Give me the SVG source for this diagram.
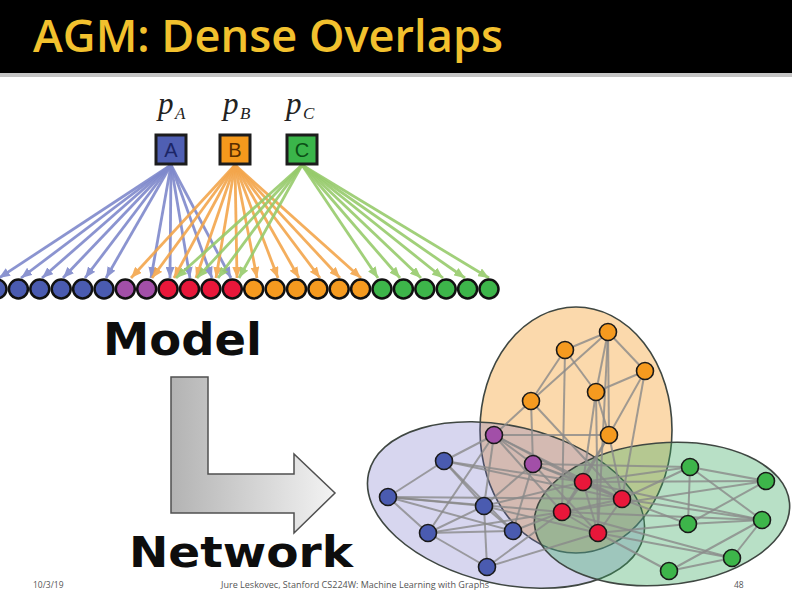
<svg xmlns="http://www.w3.org/2000/svg" width="792" height="591" viewBox="0 0 792 591">
<defs>
<style>
.title{font-family:"Open Sans","Liberation Sans",sans-serif;font-weight:600;fill:#f2c12e}
.big{font-family:"DejaVu Sans","Liberation Sans",sans-serif;font-weight:bold;fill:#0d0d0d}
.foot{font-family:"Open Sans","Liberation Sans",sans-serif;font-size:8.5px;fill:#555}
.pl{font-family:"Liberation Serif",serif;font-style:italic;fill:#222}
.boxt{font-family:"Liberation Sans",sans-serif;font-size:20px;text-anchor:middle}
.row circle{stroke:#111;stroke-width:2.5}
.net circle{stroke:#1a1a1a;stroke-width:1.6}
.cb{fill:#4a5bb0}.cp{fill:#a24fa8}.cr{fill:#e8173a}.co{fill:#f59a1f}.cg{fill:#3db54a}
.aA{stroke:#7f89cc;stroke-width:2.8;fill:none;opacity:.9;marker-end:url(#mA)}
.aB{stroke:#f3a64c;stroke-width:2.8;fill:none;opacity:.9;marker-end:url(#mB)}
.aC{stroke:#97cb6c;stroke-width:2.8;fill:none;opacity:.9;marker-end:url(#mC)}
.e{stroke:#8a8a8a;stroke-width:2;opacity:.8}
.ell{stroke:#3f4742;stroke-width:1.6}
</style>
<marker id="mA" markerUnits="userSpaceOnUse" markerWidth="11" markerHeight="9" refX="11" refY="4.5" orient="auto"><path d="M0,0 L11,4.5 L0,9 z" fill="#7f89cc"/></marker>
<marker id="mB" markerUnits="userSpaceOnUse" markerWidth="11" markerHeight="9" refX="11" refY="4.5" orient="auto"><path d="M0,0 L11,4.5 L0,9 z" fill="#f3a64c"/></marker>
<marker id="mC" markerUnits="userSpaceOnUse" markerWidth="11" markerHeight="9" refX="11" refY="4.5" orient="auto"><path d="M0,0 L11,4.5 L0,9 z" fill="#97cb6c"/></marker>
<linearGradient id="gArr" x1="171" y1="0" x2="335" y2="0" gradientUnits="userSpaceOnUse">
<stop offset="0" stop-color="#b3b3b3"/><stop offset="1" stop-color="#f3f3f3"/>
</linearGradient>
</defs>
<rect width="792" height="591" fill="#fff"/>
<rect width="792" height="73" fill="#000"/>
<rect y="73" width="792" height="4" fill="#c4c4c4"/>
<text class="title" x="33" y="52" font-size="45" textLength="470" lengthAdjust="spacingAndGlyphs">AGM: Dense Overlaps</text>

<g id="labels">
<text class="pl" x="158" y="114" font-size="31">p</text><text class="pl" x="175" y="119" font-size="17">A</text>
<text class="pl" x="223" y="114" font-size="31">p</text><text class="pl" x="240" y="119" font-size="17">B</text>
<text class="pl" x="286" y="114" font-size="31">p</text><text class="pl" x="303" y="119" font-size="17">C</text>
</g>

<g id="model-connectors">
<path class="aA" d="M171,165 L-1,278"/>
<path class="aA" d="M171,165 L21,278"/>
<path class="aA" d="M171,165 L42,278"/>
<path class="aA" d="M171,165 L63,278"/>
<path class="aA" d="M171,165 L85,278"/>
<path class="aA" d="M171,165 L106,278"/>
<path class="aA" d="M171,165 L151,278"/>
<path class="aA" d="M171,165 L170,278"/>
<path class="aA" d="M171,165 L190,278"/>
<path class="aA" d="M171,165 L212,278"/>
<path class="aA" d="M171,165 L231,278"/>
<path class="aB" d="M235,165 L131,278"/>
<path class="aB" d="M235,165 L152,278"/>
<path class="aB" d="M235,165 L174,278"/>
<path class="aB" d="M235,165 L196,278"/>
<path class="aB" d="M235,165 L216,278"/>
<path class="aB" d="M235,165 L237,278"/>
<path class="aB" d="M235,165 L257,278"/>
<path class="aB" d="M235,165 L278,278"/>
<path class="aB" d="M235,165 L299,278"/>
<path class="aB" d="M235,165 L320,278"/>
<path class="aB" d="M235,165 L340,278"/>
<path class="aB" d="M235,165 L361,278"/>
<path class="aC" d="M302,165 L176,278"/>
<path class="aC" d="M302,165 L197,278"/>
<path class="aC" d="M302,165 L218,278"/>
<path class="aC" d="M302,165 L239,278"/>
<path class="aC" d="M302,165 L378,278"/>
<path class="aC" d="M302,165 L400,278"/>
<path class="aC" d="M302,165 L421,278"/>
<path class="aC" d="M302,165 L443,278"/>
<path class="aC" d="M302,165 L465,278"/>
<path class="aC" d="M302,165 L489,278"/>
</g>

<g id="box-A"><rect x="156" y="135" width="30" height="29" fill="#4f5fb3" stroke="#1c1c1c" stroke-width="3"/><text class="boxt" x="171" y="157" fill="#1c2566">A</text></g>
<g id="box-B"><rect x="220" y="135" width="30" height="29" fill="#f5991c" stroke="#1c1c1c" stroke-width="3"/><text class="boxt" x="235" y="157" fill="#5a2f00">B</text></g>
<g id="box-C"><rect x="287" y="135" width="30" height="29" fill="#3ab54a" stroke="#1c1c1c" stroke-width="3"/><text class="boxt" x="302" y="157" fill="#0b4f16">C</text></g>

<g id="member-row" class="row">
<circle class="cb" cx="-3" cy="289" r="9.5"/>
<circle class="cb" cx="18.4" cy="289" r="9.5"/>
<circle class="cb" cx="39.8" cy="289" r="9.5"/>
<circle class="cb" cx="61.2" cy="289" r="9.5"/>
<circle class="cb" cx="82.6" cy="289" r="9.5"/>
<circle class="cb" cx="104" cy="289" r="9.5"/>
<circle class="cp" cx="125.3" cy="289" r="9.5"/>
<circle class="cp" cx="146.7" cy="289" r="9.5"/>
<circle class="cr" cx="168.1" cy="289" r="9.5"/>
<circle class="cr" cx="189.5" cy="289" r="9.5"/>
<circle class="cr" cx="210.9" cy="289" r="9.5"/>
<circle class="cr" cx="232.3" cy="289" r="9.5"/>
<circle class="co" cx="253.7" cy="289" r="9.5"/>
<circle class="co" cx="275.1" cy="289" r="9.5"/>
<circle class="co" cx="296.5" cy="289" r="9.5"/>
<circle class="co" cx="317.9" cy="289" r="9.5"/>
<circle class="co" cx="339.2" cy="289" r="9.5"/>
<circle class="co" cx="360.6" cy="289" r="9.5"/>
<circle class="cg" cx="382" cy="289" r="9.5"/>
<circle class="cg" cx="403.4" cy="289" r="9.5"/>
<circle class="cg" cx="424.8" cy="289" r="9.5"/>
<circle class="cg" cx="446.2" cy="289" r="9.5"/>
<circle class="cg" cx="467.6" cy="289" r="9.5"/>
<circle class="cg" cx="489" cy="289" r="9.5"/>
</g>

<text class="big" x="103" y="355" font-size="44" textLength="159" lengthAdjust="spacingAndGlyphs">Model</text>
<g id="arrow-model-network">
<path d="M171,377 H208 V474 H294 V454 L335,493 L294,533 V513 H171 Z" fill="url(#gArr)" stroke="#505050" stroke-width="1.5" stroke-linejoin="miter"/>
</g>
<text class="big" x="129" y="567" font-size="42" textLength="224" lengthAdjust="spacingAndGlyphs">Network</text>

<text class="foot" x="33" y="588">10/3/19</text>
<text class="foot" x="355" y="588" text-anchor="middle" textLength="268" lengthAdjust="spacingAndGlyphs">Jure Leskovec, Stanford CS224W: Machine Learning with Graphs</text>
<text class="foot" x="734" y="588">48</text>

<g id="communities">
<ellipse id="comm-B" class="ell" cx="576" cy="430" rx="96" ry="123" fill="#f5a030" fill-opacity=".4"/>
<ellipse id="comm-A" class="ell" cx="506" cy="505" rx="141" ry="79" transform="rotate(13 506 505)" fill="#6a66c4" fill-opacity=".27"/>
<ellipse id="comm-C" class="ell" cx="662" cy="514" rx="128" ry="71" transform="rotate(-5 662 514)" fill="#3aa860" fill-opacity=".36"/>
</g>

<g id="network-edges">
<line class="e" x1="608" y1="332" x2="565" y2="350"/>
<line class="e" x1="608" y1="332" x2="531" y2="401"/>
<line class="e" x1="608" y1="332" x2="596" y2="392"/>
<line class="e" x1="608" y1="332" x2="645" y2="371"/>
<line class="e" x1="608" y1="332" x2="609" y2="435"/>
<line class="e" x1="608" y1="332" x2="598" y2="533"/>
<line class="e" x1="565" y1="350" x2="596" y2="392"/>
<line class="e" x1="565" y1="350" x2="531" y2="401"/>
<line class="e" x1="565" y1="350" x2="562" y2="512"/>
<line class="e" x1="645" y1="371" x2="596" y2="392"/>
<line class="e" x1="645" y1="371" x2="609" y2="435"/>
<line class="e" x1="645" y1="371" x2="622" y2="499"/>
<line class="e" x1="596" y1="392" x2="609" y2="435"/>
<line class="e" x1="596" y1="392" x2="598" y2="533"/>
<line class="e" x1="596" y1="392" x2="583" y2="482"/>
<line class="e" x1="531" y1="401" x2="494" y2="435"/>
<line class="e" x1="531" y1="401" x2="533" y2="464"/>
<line class="e" x1="531" y1="401" x2="622" y2="499"/>
<line class="e" x1="609" y1="435" x2="494" y2="435"/>
<line class="e" x1="609" y1="435" x2="622" y2="499"/>
<line class="e" x1="609" y1="435" x2="583" y2="482"/>
<line class="e" x1="609" y1="435" x2="562" y2="512"/>
<line class="e" x1="494" y1="435" x2="533" y2="464"/>
<line class="e" x1="494" y1="435" x2="484" y2="506"/>
<line class="e" x1="494" y1="435" x2="428" y2="533"/>
<line class="e" x1="494" y1="435" x2="583" y2="482"/>
<line class="e" x1="494" y1="435" x2="562" y2="512"/>
<line class="e" x1="494" y1="435" x2="444" y2="461"/>
<line class="e" x1="494" y1="435" x2="622" y2="499"/>
<line class="e" x1="533" y1="464" x2="583" y2="482"/>
<line class="e" x1="533" y1="464" x2="622" y2="499"/>
<line class="e" x1="533" y1="464" x2="598" y2="533"/>
<line class="e" x1="533" y1="464" x2="513" y2="531"/>
<line class="e" x1="533" y1="464" x2="484" y2="506"/>
<line class="e" x1="533" y1="464" x2="690" y2="467"/>
<line class="e" x1="444" y1="461" x2="388" y2="497"/>
<line class="e" x1="444" y1="461" x2="513" y2="531"/>
<line class="e" x1="444" y1="461" x2="583" y2="482"/>
<line class="e" x1="444" y1="461" x2="622" y2="499"/>
<line class="e" x1="444" y1="461" x2="484" y2="506"/>
<line class="e" x1="388" y1="497" x2="484" y2="506"/>
<line class="e" x1="388" y1="497" x2="428" y2="533"/>
<line class="e" x1="388" y1="497" x2="562" y2="512"/>
<line class="e" x1="388" y1="497" x2="513" y2="531"/>
<line class="e" x1="388" y1="497" x2="622" y2="499"/>
<line class="e" x1="484" y1="506" x2="428" y2="533"/>
<line class="e" x1="484" y1="506" x2="487" y2="567"/>
<line class="e" x1="484" y1="506" x2="513" y2="531"/>
<line class="e" x1="484" y1="506" x2="598" y2="533"/>
<line class="e" x1="484" y1="506" x2="583" y2="482"/>
<line class="e" x1="428" y1="533" x2="513" y2="531"/>
<line class="e" x1="428" y1="533" x2="487" y2="567"/>
<line class="e" x1="428" y1="533" x2="562" y2="512"/>
<line class="e" x1="513" y1="531" x2="562" y2="512"/>
<line class="e" x1="487" y1="567" x2="598" y2="533"/>
<line class="e" x1="487" y1="567" x2="562" y2="512"/>
<line class="e" x1="583" y1="482" x2="622" y2="499"/>
<line class="e" x1="583" y1="482" x2="562" y2="512"/>
<line class="e" x1="583" y1="482" x2="598" y2="533"/>
<line class="e" x1="622" y1="499" x2="562" y2="512"/>
<line class="e" x1="622" y1="499" x2="598" y2="533"/>
<line class="e" x1="562" y1="512" x2="598" y2="533"/>
<line class="e" x1="583" y1="482" x2="690" y2="467"/>
<line class="e" x1="583" y1="482" x2="766" y2="481"/>
<line class="e" x1="583" y1="482" x2="762" y2="520"/>
<line class="e" x1="622" y1="499" x2="688" y2="524"/>
<line class="e" x1="622" y1="499" x2="762" y2="520"/>
<line class="e" x1="622" y1="499" x2="690" y2="467"/>
<line class="e" x1="562" y1="512" x2="766" y2="481"/>
<line class="e" x1="562" y1="512" x2="762" y2="520"/>
<line class="e" x1="562" y1="512" x2="732" y2="558"/>
<line class="e" x1="598" y1="533" x2="732" y2="558"/>
<line class="e" x1="598" y1="533" x2="669" y2="571"/>
<line class="e" x1="598" y1="533" x2="688" y2="524"/>
<line class="e" x1="690" y1="467" x2="688" y2="524"/>
<line class="e" x1="690" y1="467" x2="766" y2="481"/>
<line class="e" x1="690" y1="467" x2="762" y2="520"/>
<line class="e" x1="766" y1="481" x2="688" y2="524"/>
<line class="e" x1="688" y1="524" x2="762" y2="520"/>
<line class="e" x1="762" y1="520" x2="732" y2="558"/>
<line class="e" x1="762" y1="520" x2="669" y2="571"/>
<line class="e" x1="732" y1="558" x2="669" y2="571"/>
</g>

<g id="network-nodes" class="net">
<g id="n-O1"><circle class="co" cx="608" cy="332" r="8.5"/></g>
<g id="n-O2"><circle class="co" cx="565" cy="350" r="8.5"/></g>
<g id="n-O3"><circle class="co" cx="645" cy="371" r="8.5"/></g>
<g id="n-O4"><circle class="co" cx="596" cy="392" r="8.5"/></g>
<g id="n-O5"><circle class="co" cx="531" cy="401" r="8.5"/></g>
<g id="n-O6"><circle class="co" cx="609" cy="435" r="8.5"/></g>
<g id="n-P1"><circle class="cp" cx="494" cy="435" r="8.5"/></g>
<g id="n-P2"><circle class="cp" cx="533" cy="464" r="8.5"/></g>
<g id="n-B1"><circle class="cb" cx="444" cy="461" r="8.5"/></g>
<g id="n-B2"><circle class="cb" cx="388" cy="497" r="8.5"/></g>
<g id="n-B3"><circle class="cb" cx="484" cy="506" r="8.5"/></g>
<g id="n-B4"><circle class="cb" cx="428" cy="533" r="8.5"/></g>
<g id="n-B5"><circle class="cb" cx="513" cy="531" r="8.5"/></g>
<g id="n-B6"><circle class="cb" cx="487" cy="567" r="8.5"/></g>
<g id="n-R1"><circle class="cr" cx="583" cy="482" r="8.5"/></g>
<g id="n-R2"><circle class="cr" cx="622" cy="499" r="8.5"/></g>
<g id="n-R3"><circle class="cr" cx="562" cy="512" r="8.5"/></g>
<g id="n-R4"><circle class="cr" cx="598" cy="533" r="8.5"/></g>
<g id="n-G1"><circle class="cg" cx="690" cy="467" r="8.5"/></g>
<g id="n-G2"><circle class="cg" cx="766" cy="481" r="8.5"/></g>
<g id="n-G3"><circle class="cg" cx="688" cy="524" r="8.5"/></g>
<g id="n-G4"><circle class="cg" cx="762" cy="520" r="8.5"/></g>
<g id="n-G5"><circle class="cg" cx="732" cy="558" r="8.5"/></g>
<g id="n-G6"><circle class="cg" cx="669" cy="571" r="8.5"/></g>
</g>
</svg>
